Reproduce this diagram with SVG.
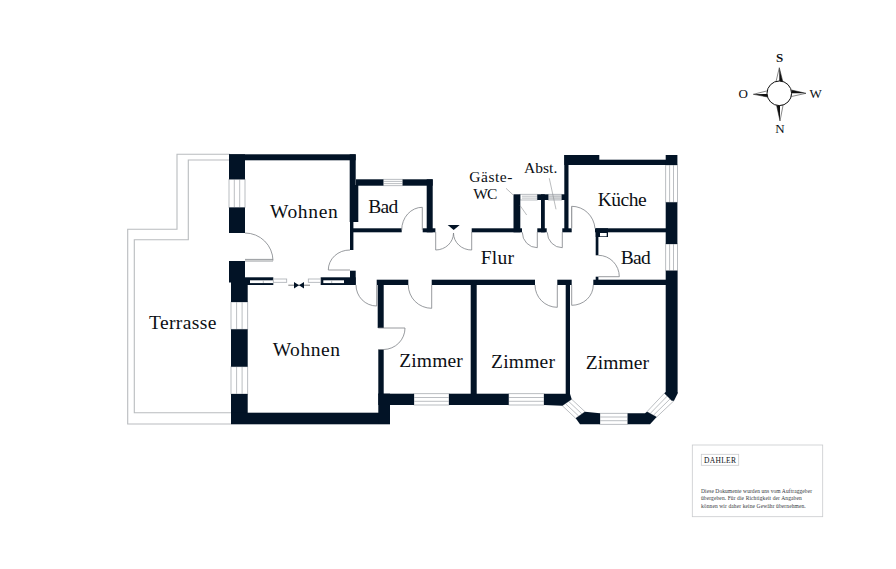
<svg xmlns="http://www.w3.org/2000/svg" width="896" height="569" viewBox="0 0 896 569">
<style>
.w{fill:#021326}
.win{fill:#fff;stroke:#a9adb2;stroke-width:.8}
.wl{fill:none;stroke:#a9adb2;stroke-width:.8}
.d{fill:none;stroke:#7d8186;stroke-width:.8}
.t{fill:none;stroke:#b9bcbf;stroke-width:1.1}
.ld{fill:none;stroke:#8b8e92;stroke-width:.6}
text{font-family:"Liberation Serif","Times New Roman",serif;fill:#0c0f14}
.r{font-size:19.5px}
.s{font-size:15.5px}
.c{font-size:13px;text-anchor:middle}
.f{font-size:5.5px;fill:#33373c}
</style>
<rect width="896" height="569" fill="#fff"/>
<g id="terrasse">
<path class="t" d="M230 154.3H177V229.3H127.7V424H231"/>
<path class="t" d="M230 160H188.3V239.7H134.3V412.7H231"/>
</g>
<g id="windows">
<rect class="win" x="229" y="179.3" width="16" height="28.2"/><path class="wl" d="M234.3 179.3V207.5M239.7 179.3V207.5"/>
<rect class="win" x="231" y="302" width="16.7" height="27.3"/><path class="wl" d="M236.6 302V329.3M242.1 302V329.3"/>
<rect class="win" x="231" y="366.7" width="16.7" height="27.3"/><path class="wl" d="M236.6 366.7V394M242.1 366.7V394"/>
<rect class="win" x="383.3" y="179.3" width="19.4" height="6.4"/><path class="wl" d="M383.3 181.4H402.7M383.3 183.6H402.7"/>
<rect class="win" x="520" y="194.3" width="17.3" height="5.7"/><path class="wl" d="M522 196.2H537.3M522 198.1H537.3"/>
<rect class="win" x="548.3" y="194.3" width="13.4" height="5.7" style="fill:#e2e3e5"/><path class="wl" d="M548.3 196.2H561.7M548.3 198.1H561.7"/>
<rect class="win" x="665.7" y="165" width="11.7" height="37.3"/><path class="wl" d="M669.6 165V202.3M673.5 165V202.3"/>
<rect class="win" x="665.7" y="244" width="11.7" height="26.7"/><path class="wl" d="M669.6 244V270.7M673.5 244V270.7"/>
<rect class="win" x="414" y="393.7" width="35" height="11.3"/><path class="wl" d="M414 397.5H449M414 401.3H449"/>
<rect class="win" x="508.7" y="393.7" width="35.3" height="11.3"/><path class="wl" d="M508.7 397.5H544M508.7 401.3H544"/>
<rect class="win" x="600" y="413.3" width="27.7" height="11"/><path class="wl" d="M600 417H627.7M600 420.7H627.7"/>
<polygon class="win" points="571.7,399.3 585,411.7 575.7,418.3 562.3,405.7"/><path class="wl" d="M568.6 401.4L581.9 413.9M565.4 403.6L578.8 416.1"/>
<polygon class="win" points="647,411.7 664.3,393.3 674,400.7 656.7,417"/><path class="wl" d="M650.2 413.5L667.5 395.8M653.5 415.2L670.8 398.2"/>
</g>
<g id="walls">
<rect class="w" x="229" y="154.3" width="126.7" height="6"/>
<rect class="w" x="229" y="154.3" width="16" height="25"/>
<rect class="w" x="229" y="207.5" width="16" height="25.5"/>
<rect class="w" x="229" y="261" width="16" height="21.5"/>
<rect class="w" x="231" y="282" width="16.7" height="20"/>
<rect class="w" x="349.7" y="154.3" width="6" height="67.7"/>
<rect class="w" x="350" y="185" width="8.3" height="37"/>
<rect class="w" x="350" y="222" width="3.4" height="28"/>
<rect class="w" x="356" y="179.3" width="27.3" height="6.4"/>
<rect class="w" x="402.7" y="179.3" width="30" height="6.4"/>
<rect class="w" x="426.7" y="179.3" width="6" height="53"/>
<rect class="w" x="352" y="228.3" width="49.7" height="4"/>
<rect class="w" x="422.7" y="228.3" width="12.7" height="4"/>
<rect class="w" x="471.7" y="228.3" width="50.3" height="4"/>
<rect class="w" x="537.3" y="228.3" width="9.4" height="4"/>
<rect class="w" x="562.3" y="228.3" width="9.4" height="4"/>
<rect class="w" x="595" y="228.3" width="71" height="4"/>
<rect class="w" x="513.5" y="194.3" width="6.8" height="38"/>
<rect class="w" x="537.3" y="194.3" width="11" height="5.7"/>
<rect class="w" x="541" y="194.3" width="3.8" height="38"/>
<rect class="w" x="561.7" y="194.3" width="4" height="5.7"/>
<rect class="w" x="564.3" y="155" width="4.2" height="77"/>
<rect class="w" x="564.3" y="155" width="35" height="10"/>
<rect class="w" x="599" y="159.7" width="67" height="5.3"/>
<rect class="w" x="665.7" y="155" width="11.7" height="10"/>
<rect class="w" x="665.7" y="202.3" width="11.7" height="41.7"/>
<rect class="w" x="665.7" y="270.7" width="11.9" height="122"/>
<rect class="w" x="595.7" y="228.3" width="12.3" height="8.7"/>
<rect x="600" y="233" width="6.7" height="3.3" fill="#fff"/>
<rect class="w" x="595.7" y="232" width="2.7" height="23.3"/>
<rect class="w" x="595.7" y="276.7" width="2.7" height="4"/>
<rect class="w" x="376.7" y="279.7" width="31.6" height="5.3"/>
<rect class="w" x="431.7" y="279.7" width="103.3" height="5.3"/>
<rect class="w" x="557.3" y="279.7" width="14.4" height="5.3"/>
<rect class="w" x="593.3" y="279.7" width="72.7" height="5.3"/>
<rect class="w" x="245" y="277.3" width="28.3" height="7.7"/>
<rect class="w" x="320.7" y="277.3" width="35" height="7.7"/>
<rect class="w" x="350" y="270.7" width="5.7" height="14"/>
<rect class="w" x="377.7" y="280" width="6" height="48"/>
<rect class="w" x="378.3" y="349.5" width="5.4" height="45"/>
<rect class="w" x="470.7" y="280" width="6" height="114"/>
<rect class="w" x="565.7" y="280" width="4.3" height="120"/>
<rect class="w" x="231" y="329.3" width="16.7" height="37.4"/>
<rect class="w" x="231" y="394" width="16.7" height="30"/>
<rect class="w" x="231" y="412.7" width="159" height="11.6"/>
<rect class="w" x="378.3" y="393.7" width="35.7" height="11.3"/>
<rect class="w" x="378.3" y="393.7" width="11.7" height="30"/>
<rect class="w" x="449" y="393.7" width="59.7" height="11.3"/>
<polygon class="w" points="544,393.7 570,393.7 571.7,399.3 562.3,405.7 544,405"/>
<polygon class="w" points="585,411.7 600,413.3 600,424.3 580,424.3 575.7,418.3"/>
<polygon class="w" points="627.7,413.3 645,413.3 647,411.7 656.7,417 650,424.3 627.7,424.3"/>
<polygon class="w" points="665.7,392 677.6,392 677.6,393.5 674,400.7 671.7,400.7 664.3,393.3"/>
</g>
<g id="sliding-door">
<rect x="250" y="280.3" width="23.3" height="2.8" fill="#fff"/><path class="wl" d="M263.3 280.3V283"/>
<rect x="323.3" y="280.3" width="20.7" height="2.8" fill="#fff"/><path class="wl" d="M331.7 280.3V283"/>
<rect class="win" x="273.3" y="279" width="13.4" height="3.3"/>
<rect class="win" x="308.3" y="279" width="12.4" height="3.3"/>
<path d="M288.3 285.2H310" stroke="#222" stroke-width=".6" fill="none"/>
<path d="M294 282L299 285.2L304 282V288.4L299 285.2L294 288.4Z" fill="#021326"/>
</g>
<g id="doors">
<path class="d" d="M245 233A28 28 0 0 1 273 260.5"/>
<path d="M245 259.4H273M245 261H273" stroke="#8b8e92" stroke-width=".9" fill="none"/>
<path class="d" d="M350 250A21.5 20 0 0 0 328.3 270H350"/>
<path class="d" d="M356 285A20.7 21 0 0 0 376.7 306V285"/>
<path class="d" d="M401.7 230A20.6 22.7 0 0 1 422.3 207.3V230"/>
<path class="d" d="M435.7 232V250A18 17 0 0 0 453.5 233A18 17 0 0 0 471.7 250V232"/>
<path class="d" d="M522.3 232.3A15 15.4 0 0 0 537.3 247.7V232"/>
<path class="d" d="M547.3 232.3A15 15.4 0 0 0 562.3 247.7V232"/>
<path class="d" d="M595 228.5A23.3 24 0 0 0 571.7 206.3"/>
<path d="M571.7 206.3V228.3" stroke="#8b8e92" stroke-width="1.1" fill="none"/>
<path class="d" d="M598.3 255.3A21 21.4 0 0 1 619.3 276.7H598.3"/>
<path class="d" d="M408.3 285A23.4 23.3 0 0 0 431.7 308.3V285"/>
<path class="d" d="M535 285A22.3 22.3 0 0 0 557.3 307.3V285"/>
<path class="d" d="M593.3 285A21.6 20.3 0 0 1 571.7 305.3V285"/>
<path class="d" d="M378.3 328H405A21.7 21.5 0 0 1 383.7 349.5H378.3"/>
<polygon points="447.7,225 459.7,225 453.7,230" fill="#021326"/>
</g>
<g id="leaders">
<path class="ld" d="M506 188.3L513.8 195.5M520 205.5L526.7 215"/>
<path class="ld" d="M549.3 178.3L556 209.3"/>
</g>
<g id="labels">
<text class="r" x="270" y="217.7" textLength="67.7">Wohnen</text>
<text class="r" x="368.3" y="212.7" textLength="30">Bad</text>
<text class="s" x="469.3" y="181.7" textLength="43">Gäste-</text>
<text class="s" x="473.3" y="199.3" textLength="24">WC</text>
<text class="s" x="524" y="173.3" textLength="33.3">Abst.</text>
<text class="r" x="597.7" y="206" textLength="49">Küche</text>
<text class="r" x="480.7" y="264.3" textLength="33.3">Flur</text>
<text class="r" x="620.7" y="264.3" textLength="30">Bad</text>
<text class="r" x="149" y="329.3" textLength="67.3">Terrasse</text>
<text class="r" x="272.7" y="356" textLength="67.3">Wohnen</text>
<text class="r" x="399.3" y="367" textLength="63.4">Zimmer</text>
<text class="r" x="491" y="368.3" textLength="64">Zimmer</text>
<text class="r" x="585.7" y="369.3" textLength="63.3">Zimmer</text>
</g>
<g id="compass">
<path d="M779.3 67.7L776 81.7L782.7 81L779.3 67.7Z" fill="#fff" stroke="#111" stroke-width=".5"/>
<path d="M779.3 67.7L779.3 82L782.7 81.5Z" fill="#111"/>
<path d="M780 121L776.5 105L783 105.5Z" fill="#fff" stroke="#111" stroke-width=".5"/>
<path d="M780 121L780 105L776.5 105Z" fill="#111"/>
<path d="M753.3 94.3L767.5 90.8L767.5 97Z" fill="#fff" stroke="#111" stroke-width=".5"/>
<path d="M753.3 94.3L767.5 94L767.5 97Z" fill="#111"/>
<path d="M806 93.3L791.5 90L791.5 96.5Z" fill="#fff" stroke="#111" stroke-width=".5"/>
<path d="M806 93.3L791.5 93.3L791.5 90Z" fill="#111"/>
<circle cx="779.3" cy="93.3" r="12.3" fill="#fff" stroke="#111" stroke-width="1"/>
<text class="c" x="779.5" y="62" font-weight="bold">S</text>
<text class="c" x="743.3" y="97.7">O</text>
<text class="c" x="815.7" y="97.7">W</text>
<text class="c" x="780" y="133.3">N</text>
</g>
<g id="legend">
<rect x="692.3" y="445" width="130.4" height="71.7" fill="#fff" stroke="#c9cbcd" stroke-width=".8"/>
<rect x="701.3" y="454.3" width="37.4" height="11" fill="#fff" stroke="#c9cbcd" stroke-width=".8"/>
<text x="704" y="462.6" font-size="7.5" textLength="32">DAHLER</text>
<text class="f" x="701" y="493.3" textLength="111">Diese Dokumente wurden uns vom Auftraggeber</text>
<text class="f" x="701" y="500.3" textLength="100.7">übergeben. Für die Richtigkeit der Angaben</text>
<text class="f" x="701" y="507.7" textLength="104.7">können wir daher keine Gewähr übernehmen.</text>
</g>
</svg>
